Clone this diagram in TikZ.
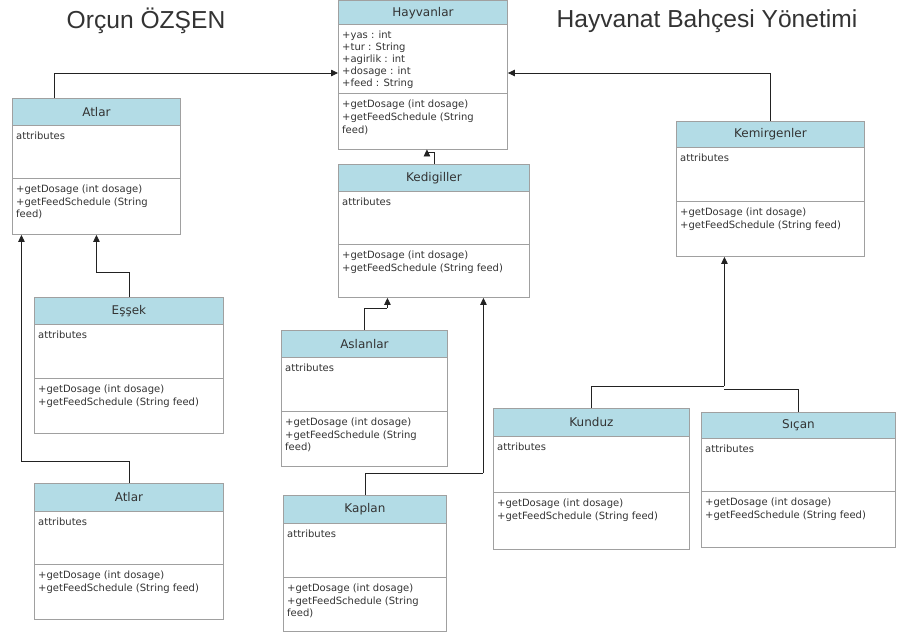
\documentclass[tikz,border=0pt]{standalone}
\usepackage{fontspec}
\setmainfont{DejaVu Sans}
\newfontfamily\titlefont{Liberation Sans}
\usetikzlibrary{arrows.meta,calc}
\definecolor{hdrblue}{HTML}{B3DCE6}
\definecolor{boxline}{HTML}{A0A0A0}
\definecolor{txt}{HTML}{333333}
\definecolor{conn}{HTML}{222222}
\tikzset{
  umlbox/.style={draw=boxline, line width=0.9pt, fill=white, rectangle, inner sep=0pt, anchor=north west},
  hdrfill/.style={fill=hdrblue, draw=boxline, line width=0.9pt},
  hdrtext/.style={font=\fontsize{12}{14}\selectfont, text=txt, inner sep=0pt},
  bodytext/.style={font=\fontsize{10}{12.8}\selectfont, text=txt, inner sep=0pt, anchor=north west, align=left},
  divline/.style={draw=boxline, line width=0.9pt},
  conn/.style={draw=conn, line width=0.8pt},
  arr/.style={conn, -{Triangle[length=7pt,width=6.5pt]}},
  titletext/.style={font=\titlefont\fontsize{24.6}{28}\selectfont, text=txt, inner sep=0pt}
}
% #1 name, #2 x, #3 y, #4 width, #5 height, #6 header h, #7 divider offset, #8 title
\newcommand{\umlclass}[8]{%
  \node[umlbox, minimum width=#4pt, minimum height=#5pt] (#1) at (#2,#3) {};
  \filldraw[hdrfill] (#1.north west) rectangle ($(#1.north east)+(0,#6)$);
  \node[hdrtext] (#1-t) at ($(#1.north)+(0,#6/2+0.5)$) {#8};
  \draw[divline] ($(#1.north west)+(0,#7)$) -- ($(#1.north east)+(0,#7)$);
}
\newcommand{\attrs}[3]{\node[bodytext] (#1-at) at ($(#1.north west)+(4,#2+6.5)$) {#3};}
\newcommand{\meths}[3]{\node[bodytext] (#1-me) at ($(#1.north west)+(4,#2+6.5)$) {#3};}
\begin{document}
\begin{tikzpicture}[x=1pt,y=-1pt]
\useasboundingbox (0,0) rectangle (906,633);

\node[titletext] (t1) at (146,21) {Orçun ÖZŞEN};
\node[titletext] (t2) at (707,21) {Hayvanat Bahçesi Yönetimi};

% Hayvanlar
\umlclass{hay}{338}{0.5}{169}{148}{24}{93}{Hayvanlar}
\node[bodytext, font=\fontsize{10}{12}\selectfont] (hay-at) at ($(hay.north west)+(4,30)$) {+yas : int\\+tur : String\\+agirlik : int\\+dosage : int\\+feed : String};
\meths{hay}{93}{+getDosage (int dosage)\\+getFeedSchedule (String\\feed)}

% Atlar (top)
\umlclass{atlarA}{12}{98}{168}{136}{27}{80}{Atlar}
\attrs{atlarA}{27}{attributes}
\meths{atlarA}{80}{+getDosage (int dosage)\\+getFeedSchedule (String\\feed)}

% Kedigiller
\umlclass{kedi}{338}{164}{191}{133}{27}{80}{Kedigiller}
\attrs{kedi}{27}{attributes}
\meths{kedi}{80}{+getDosage (int dosage)\\+getFeedSchedule (String feed)}

% Kemirgenler
\umlclass{kemir}{676}{121}{188}{135}{26}{80}{Kemirgenler}
\attrs{kemir}{26}{attributes}
\meths{kemir}{80}{+getDosage (int dosage)\\+getFeedSchedule (String feed)}

% Aslanlar
\umlclass{aslan}{281}{330}{166}{136}{27}{81}{Aslanlar}
\attrs{aslan}{27}{attributes}
\meths{aslan}{81}{+getDosage (int dosage)\\+getFeedSchedule (String\\feed)}

% Kaplan
\umlclass{kaplan}{283}{495}{163}{136}{28}{82}{Kaplan}
\attrs{kaplan}{28}{attributes}
\meths{kaplan}{82}{+getDosage (int dosage)\\+getFeedSchedule (String\\feed)}

% Kunduz
\umlclass{kunduz}{493}{408}{196}{141}{28}{84}{Kunduz}
\attrs{kunduz}{28}{attributes}
\meths{kunduz}{84}{+getDosage (int dosage)\\+getFeedSchedule (String feed)}

% Sican
\umlclass{sican}{701}{412}{194}{135}{26}{79}{Sıçan}
\attrs{sican}{26}{attributes}
\meths{sican}{79}{+getDosage (int dosage)\\+getFeedSchedule (String feed)}

% Essek
\umlclass{essek}{34}{297}{189}{136}{27}{81}{Eşşek}
\attrs{essek}{27}{attributes}
\meths{essek}{81}{+getDosage (int dosage)\\+getFeedSchedule (String feed)}

% Atlar (bottom)
\umlclass{atlarB}{34}{483}{189}{136}{28}{81}{Atlar}
\attrs{atlarB}{28}{attributes}
\meths{atlarB}{81}{+getDosage (int dosage)\\+getFeedSchedule (String feed)}

% Connectors
\coordinate (hayL) at ($(hay.north west)+(0,72.5)$);
\coordinate (hayR) at ($(hay.north east)+(0,72.5)$);
\draw[arr] ($(atlarA.north west)+(42,0)$) |- (hayL);
\draw[arr] (kemir.north) |- (hayR);
\draw[conn] (kedi.north) -- ++(0,-12) -- ++(-7,0) coordinate (kc);
\draw[arr] (kc) -- (kc |- hay.south);
\draw[conn] (aslan.north) -- ++(0,-22) -- ++(23,0) coordinate (ac);
\draw[arr] (ac) -- (ac |- kedi.south);
\draw[conn] (kaplan.north) -- ++(0,-22) -- ++(118.5,0) coordinate (kpc);
\draw[arr] (kpc) -- (kpc |- kedi.south);
\draw[conn] (kunduz.north) -- ++(0,-22) -| ++(133,0) coordinate (kuc);
\draw[arr] (kuc) -- (kuc |- kemir.south);
\draw[conn] (sican.north) -- ++(0,-23) -- (kuc |- 0,389);
\draw[conn] (essek.north) -- ++(0,-25) -- ++(-32.5,0) coordinate (ec);
\draw[arr] (ec) -- (ec |- atlarA.south);
\draw[conn] (atlarB.north) -- ++(0,-22) -- ++(-107.5,0) coordinate (abc);
\draw[arr] (abc) -- (abc |- atlarA.south);
\end{tikzpicture}
\end{document}
